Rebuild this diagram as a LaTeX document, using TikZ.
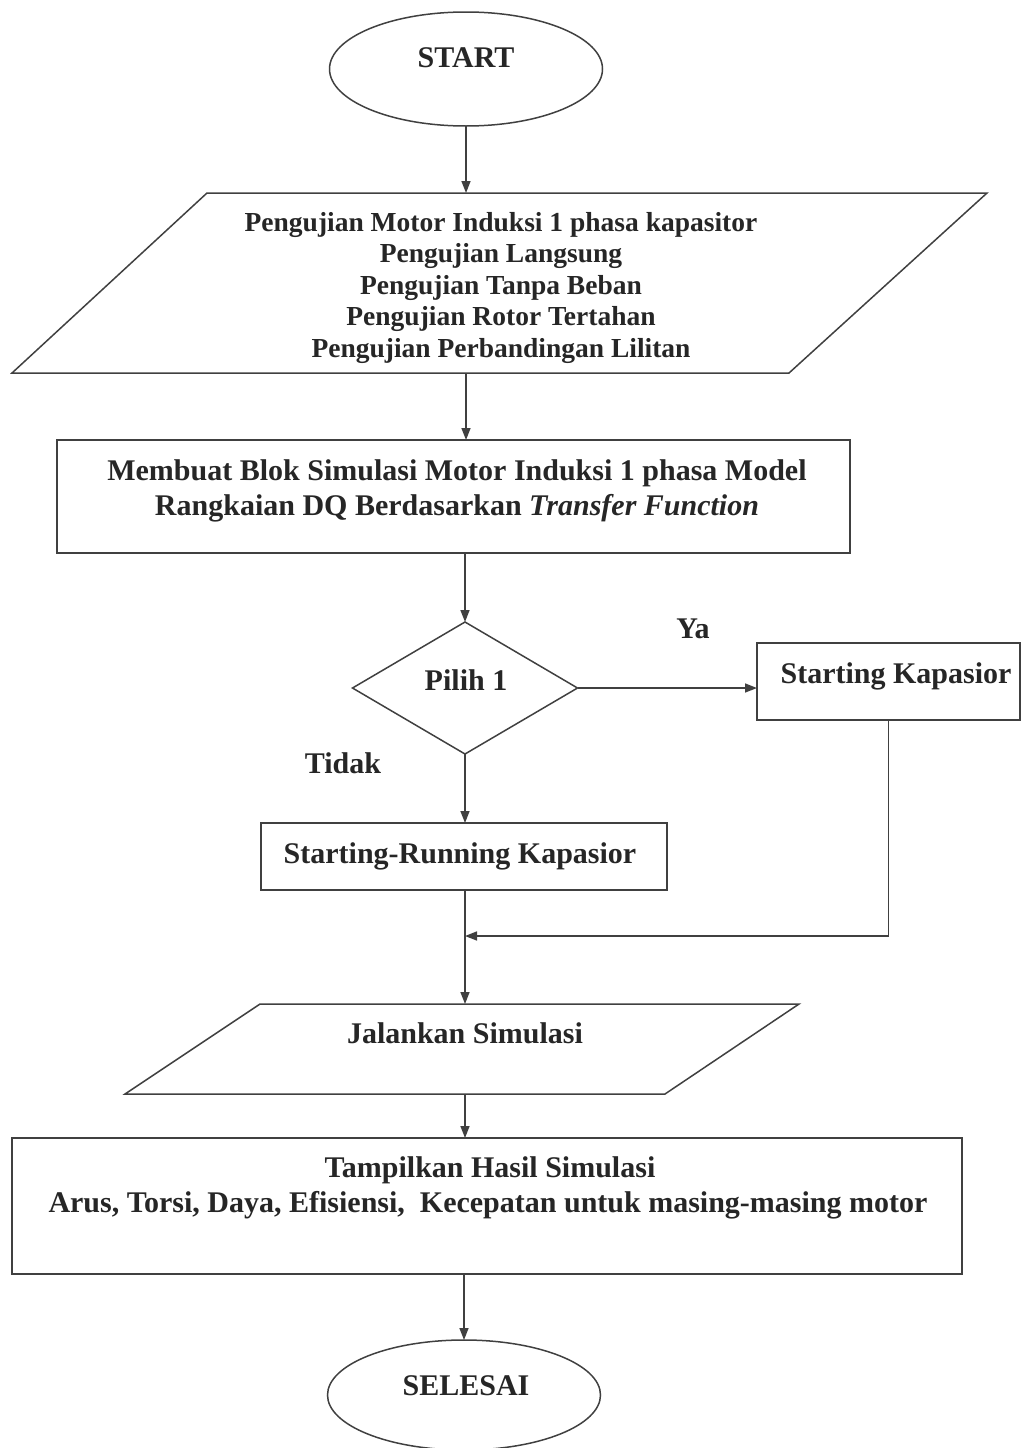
\documentclass[tikz,border=0pt]{standalone}
\usepackage{fontspec}
\setmainfont{Liberation Serif}
\usetikzlibrary{shapes.geometric,arrows.meta}
\begin{document}
\begin{tikzpicture}[x=1pt,y=-1pt,
  ln/.style={draw=black!75, line width=1.5pt},
  arr/.style={ln, -{Triangle[length=12pt,width=9pt]}},
  box/.style={ln, rectangle, inner sep=0pt, outer sep=0pt},
  term/.style={ln, ellipse, inner sep=0pt, outer sep=0pt},
  dec/.style={ln, diamond, inner sep=0pt, outer sep=0pt},
  txt/.style={inner sep=0pt, anchor=base, text=black!85, font=\fontsize{30}{35}\selectfont\bfseries},
  txts/.style={txt, font=\fontsize{27.5}{31}\selectfont\bfseries},
]
\useasboundingbox (0,0) rectangle (1022,1448);

% START
\node[term, minimum width=273, minimum height=114] (start) at (466,69) {};
\node[txt] (startlbl) at (466,67) {START};

% input parallelogram
\draw[ln] (207,193) -- (987,193) -- (789,373) -- (12,373) -- cycle;
\coordinate (p1top) at (466,193);
\coordinate (p1bot) at (466,373);
\node[txts] (in1) at (501,231) {Pengujian Motor Induksi 1 phasa kapasitor};
\node[txts] (in2) at (501,262) {Pengujian Langsung};
\node[txts] (in3) at (501,294) {Pengujian Tanpa Beban};
\node[txts] (in4) at (501,325) {Pengujian Rotor Tertahan};
\node[txts] (in5) at (501,357) {Pengujian Perbandingan Lilitan};

% model box
\node[box, minimum width=793, minimum height=113] (model) at (453.5,496.5) {};
\node[txt] (model1) at (457,480) {Membuat Blok Simulasi Motor Induksi 1 phasa Model};
\node[txt] (model2) at (457,515) {Rangkaian DQ Berdasarkan \textit{Transfer Function}};

% decision
\node[dec, minimum width=225, minimum height=132] (pilih) at (465,688) {};
\node[txt] (pilihlbl) at (466,690) {Pilih 1};
\node[txt] (ya) at (693,638) {Ya};
\node[txt] (tidak) at (343,773) {Tidak};

% Starting Kapasior
\node[box, minimum width=263, minimum height=77] (sk) at (888.5,681.5) {};
\node[txt] (sklbl) at (896,683) {Starting Kapasior};

% Starting-Running Kapasior
\node[box, minimum width=406, minimum height=67] (sr) at (464,856.5) {};
\node[txt] (srlbl) at (460,863) {Starting-Running Kapasior};

\coordinate (join) at (465,936);

% Jalankan Simulasi
\draw[ln] (260,1004) -- (799,1004) -- (665,1094) -- (125,1094) -- cycle;
\coordinate (p2top) at (465,1004);
\coordinate (p2bot) at (465,1094);
\node[txt] (runlbl) at (465,1043) {Jalankan Simulasi};

% results box
\node[box, minimum width=950, minimum height=136] (show) at (487,1206) {};
\node[txt] (show1) at (490,1177) {Tampilkan Hasil Simulasi};
\node[txt] (show2) at (488,1212) {Arus, Torsi, Daya, Efisiensi,\ \ Kecepatan untuk masing-masing motor};

% SELESAI
\node[term, minimum width=273, minimum height=110] (finish) at (464,1395) {};
\node[txt] (finishlbl) at (466,1395) {SELESAI};

% connectors
\draw[arr] (start.south) -- (p1top);
\draw[arr] (p1bot) -- (p1bot |- model.north);
\draw[arr] (model.south -| pilih.north) -- (pilih.north);
\draw[arr] (pilih.east) -- (pilih.east -| sk.west);
\draw[arr] (pilih.south) -- (pilih.south |- sr.north);
\draw[arr] (sr.south -| p2top) -- (p2top);
\draw[arr] (sk.south) |- (join);
\draw[arr] (p2bot) -- (p2bot |- show.north);
\draw[arr] (show.south -| finish.north) -- (finish.north);
\end{tikzpicture}
\end{document}
